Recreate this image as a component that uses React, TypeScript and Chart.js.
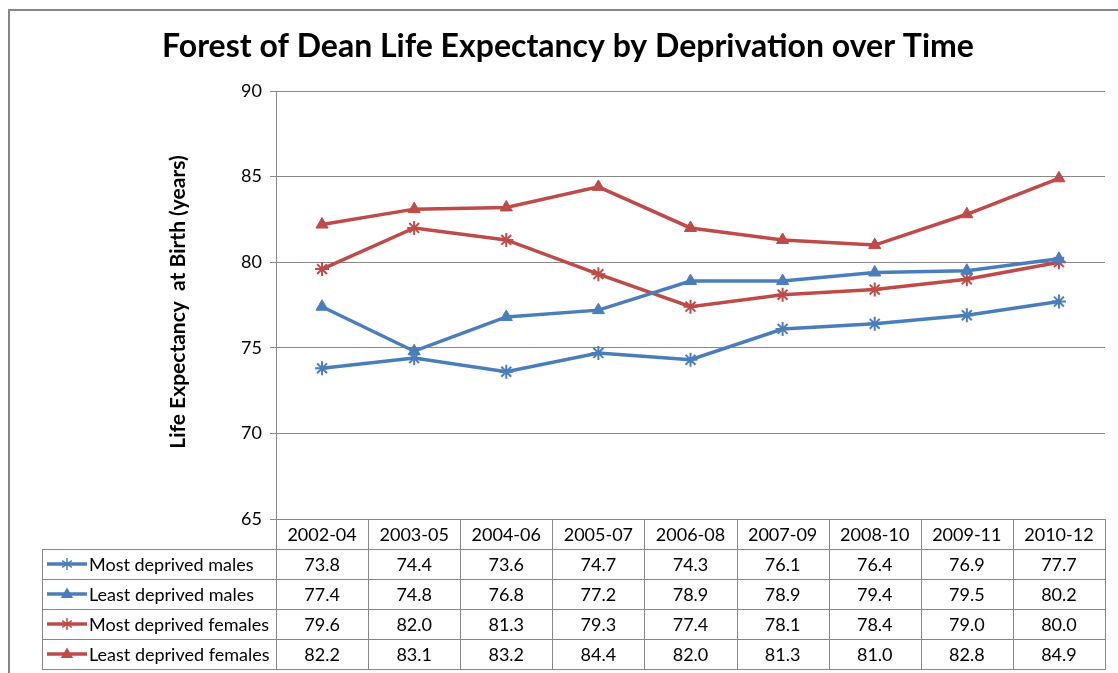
import React, { useEffect, useRef } from "react";
import { Chart, registerables } from "chart.js";

Chart.register(...registerables);

const categories = ["2002-04", "2003-05", "2004-06", "2005-07", "2006-08", "2007-09", "2008-10", "2009-11", "2010-12"];
const mostDeprivedMales = [73.8, 74.4, 73.6, 74.7, 74.3, 76.1, 76.4, 76.9, 77.7];
const leastDeprivedMales = [77.4, 74.8, 76.8, 77.2, 78.9, 78.9, 79.4, 79.5, 80.2];
const mostDeprivedFemales = [79.6, 82.0, 81.3, 79.3, 77.4, 78.1, 78.4, 79.0, 80.0];
const leastDeprivedFemales = [82.2, 83.1, 83.2, 84.4, 82.0, 81.3, 81.0, 82.8, 84.9];
const seriesNames = ["Most deprived males", "Least deprived males", "Most deprived females", "Least deprived females"];
const yMin = 65;
const yMax = 90;
const yStep = 5;
const titleText = "Forest of Dean Life Expectancy by Deprivation over Time";
const yTitleText = "Life Expectancy  at Birth (years)";

const BLUE = "#4A7EBB";
const RED = "#BE4B48";
const GRID = "#878787";
const FONT = "Lato, 'Open Sans', sans-serif";

function drawMarker(ctx: CanvasRenderingContext2D, style: string, x: number, y: number, color: string) {
  ctx.save();
  ctx.strokeStyle = color;
  ctx.fillStyle = color;
  if (style === "triangle") {
    const r = 6.5;
    ctx.beginPath();
    ctx.moveTo(x, y - r);
    ctx.lineTo(x + r * 0.95, y + r * 0.6);
    ctx.lineTo(x - r * 0.95, y + r * 0.6);
    ctx.closePath();
    ctx.fill();
  } else {
    const r = 6;
    ctx.lineWidth = 1.5;
    ctx.beginPath();
    ctx.moveTo(x, y - r);
    ctx.lineTo(x, y + r);
    const d = r * 0.8;
    ctx.moveTo(x - d, y - d * 0.7);
    ctx.lineTo(x + d, y + d * 0.7);
    ctx.moveTo(x - d, y + d * 0.7);
    ctx.lineTo(x + d, y - d * 0.7);
    ctx.stroke();
  }
  ctx.restore();
}

const tablePlugin = {
  id: "dataTable",
  afterDraw(chart: any) {
    const ctx: CanvasRenderingContext2D = chart.ctx;
    const area = chart.chartArea;
    const n = categories.length;
    const colW = (area.right - area.left) / n;
    const rowH = 30;
    const top = Math.round(area.bottom);
    const tableLeft = 42;
    const right = Math.round(area.right);
    const left = Math.round(area.left);
    const rows = [mostDeprivedMales, leastDeprivedMales, mostDeprivedFemales, leastDeprivedFemales];
    const colors = [BLUE, BLUE, RED, RED];
    const markers = ["star", "triangle", "star", "triangle"];

    ctx.save();
    // outer chart border
    ctx.strokeStyle = "#868686";
    ctx.lineWidth = 2;
    ctx.strokeRect(9, 10, 1200, 800);

    // title
    ctx.fillStyle = "#000";
    ctx.font = `bold 32px ${FONT}`;
    ctx.textAlign = "center";
    ctx.textBaseline = "middle";
    ctx.fillText(titleText, 568, 47);

    // y title
    ctx.save();
    ctx.translate(178, 302);
    ctx.rotate(-Math.PI / 2);
    ctx.font = `bold 21px ${FONT}`;
    ctx.fillText(yTitleText, 0, 0);
    ctx.restore();

    // table lines
    ctx.strokeStyle = GRID;
    ctx.lineWidth = 1;
    ctx.beginPath();
    for (let i = 0; i <= n; i++) {
      const x = Math.round(left + i * colW) + 0.5;
      ctx.moveTo(x, top);
      ctx.lineTo(x, top + rowH * 5);
    }
    for (let r = 1; r <= 5; r++) {
      const y = top + r * rowH + 0.5;
      ctx.moveTo(tableLeft, y);
      ctx.lineTo(right + 1, y);
    }
    ctx.moveTo(tableLeft + 0.5, top + rowH);
    ctx.lineTo(tableLeft + 0.5, top + rowH * 5);
    ctx.stroke();

    // header texts
    ctx.fillStyle = "#000";
    ctx.font = `18px ${FONT}`;
    ctx.textAlign = "center";
    ctx.textBaseline = "middle";
    for (let i = 0; i < n; i++) {
      const cx = chart.scales.x.getPixelForValue(i);
      ctx.fillText(categories[i], cx, top + rowH / 2 + 1);
    }
    // rows
    for (let r = 0; r < rows.length; r++) {
      const cy = top + rowH * (r + 1) + rowH / 2 + 1;
      for (let i = 0; i < n; i++) {
        const cx = chart.scales.x.getPixelForValue(i);
        ctx.fillStyle = "#000";
        ctx.textAlign = "center";
        ctx.fillText(rows[r][i].toFixed(1), cx, cy);
      }
      // legend key
      ctx.strokeStyle = colors[r];
      ctx.lineWidth = 3.5;
      ctx.beginPath();
      ctx.moveTo(47, cy - 1);
      ctx.lineTo(87, cy - 1);
      ctx.stroke();
      drawMarker(ctx, markers[r], 67, cy - 1, colors[r]);
      ctx.fillStyle = "#000";
      ctx.textAlign = "left";
      ctx.fillText(seriesNames[r], 89, cy);
    }
    ctx.restore();
  },
};

export default function App() {
  const ref = useRef<HTMLCanvasElement | null>(null);
  useEffect(() => {
    document.body.style.margin = "0";
    const canvas = ref.current!;
    const mk = (label: string, data: number[], color: string, pointStyle: string) => ({
      label,
      data,
      borderColor: color,
      backgroundColor: color,
      borderWidth: 3.5,
      pointStyle,
      pointRadius: pointStyle === "star" ? 7 : 7,
      pointBorderWidth: pointStyle === "star" ? 2 : 1,
      pointBackgroundColor: color,
      pointBorderColor: color,
      tension: 0,
    });
    const chart = new Chart(canvas, {
      type: "line",
      data: {
        labels: categories,
        datasets: [
          mk(seriesNames[0], mostDeprivedMales, BLUE, "star"),
          mk(seriesNames[1], leastDeprivedMales, BLUE, "triangle"),
          mk(seriesNames[2], mostDeprivedFemales, RED, "star"),
          mk(seriesNames[3], leastDeprivedFemales, RED, "triangle"),
        ],
      },
      options: {
        responsive: false,
        animation: false,
        devicePixelRatio: 1,
        layout: { padding: { left: 0, top: 91, right: 13, bottom: 0 } },
        plugins: { legend: { display: false }, tooltip: { enabled: false }, title: { display: false } },
        scales: {
          x: {
            offset: true,
            grid: { display: false, drawTicks: false },
            border: { display: false },
            ticks: { display: false },
            afterFit: (s: any) => { s.height = 673 - 519; },
          },
          y: {
            min: yMin,
            max: yMax,
            ticks: { stepSize: yStep, color: "#000", font: { family: FONT, size: 18 }, padding: 8 },
            grid: { color: GRID, tickLength: 6, lineWidth: 1 },
            border: { color: GRID, width: 1 },
            afterFit: (s: any) => { s.width = 276; },
          },
        },
      },
      plugins: [tablePlugin],
    } as any);
    return () => chart.destroy();
  }, []);
  return (
    <div style={{ position: "absolute", left: 0, top: 0, width: 1118, height: 673, background: "#fff" }}>
      <canvas ref={ref} width={1118} height={673} />
    </div>
  );
}
